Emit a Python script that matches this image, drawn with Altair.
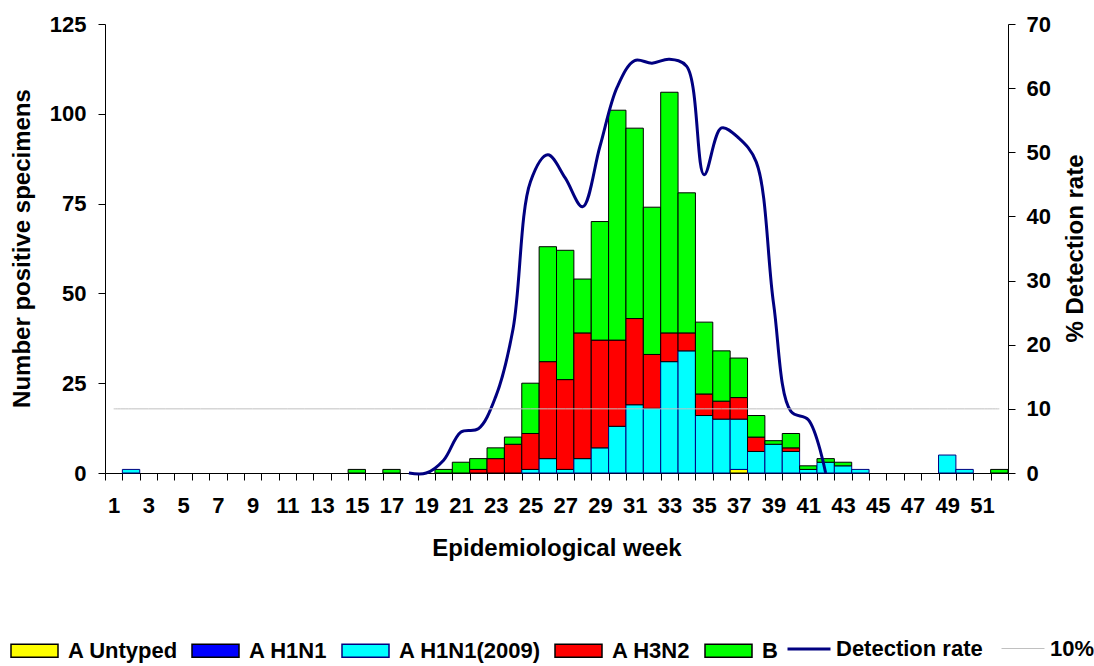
import altair as alt
import pandas as pd

# Epidemiological weeks 1..52
weeks = list(range(1, 53))

# Positive specimens per week, one list per virus type (rows of 13 weeks)
a_untyped = [
    0, 0, 0, 0, 0, 0, 0, 0, 0, 0, 0, 0, 0,
    0, 0, 0, 0, 0, 0, 0, 0, 0, 0, 0, 0, 0,
    0, 0, 0, 0, 0, 0, 0, 0, 0, 0, 1, 0, 0,
    0, 0, 0, 0, 0, 0, 0, 0, 0, 0, 0, 0, 0,
]
a_h1n1 = [
    0, 0, 0, 0, 0, 0, 0, 0, 0, 0, 0, 0, 0,
    0, 0, 0, 0, 0, 0, 0, 0, 0, 0, 0, 0, 0,
    0, 0, 0, 0, 0, 0, 0, 0, 0, 0, 0, 0, 0,
    0, 0, 0, 0, 0, 0, 0, 0, 0, 0, 0, 0, 0,
]
a_h1n1_2009 = [
    0, 1, 0, 0, 0, 0, 0, 0, 0, 0, 0, 0, 0,
    0, 0, 0, 0, 0, 0, 0, 0, 0, 0, 0, 1, 4,
    1, 4, 7, 13, 19, 18, 31, 34, 16, 15, 14, 6, 8,
    6, 1, 3, 2, 1, 0, 0, 0, 0, 5, 1, 0, 0,
]
a_h3n2 = [
    0, 0, 0, 0, 0, 0, 0, 0, 0, 0, 0, 0, 0,
    0, 0, 0, 0, 0, 0, 0, 0, 1, 4, 8, 10, 27,
    25, 35, 30, 24, 24, 15, 8, 5, 6, 5, 6, 4, 0,
    1, 0, 0, 0, 0, 0, 0, 0, 0, 0, 0, 0, 0,
]
b_type = [
    0, 0, 0, 0, 0, 0, 0, 0, 0, 0, 0, 0, 0,
    0, 1, 0, 1, 0, 0, 1, 3, 3, 3, 2, 14, 32,
    36, 15, 33, 64, 53, 41, 67, 39, 20, 14, 11, 6, 1,
    4, 1, 1, 1, 0, 0, 0, 0, 0, 0, 0, 0, 1,
]

# Detection rate (%) for the weeks where it was reported
rate_weeks = [18, 19, 20, 21, 22, 23, 24, 25, 26, 27, 28, 29, 30,
              31, 32, 33, 34, 35, 36, 37, 38, 39, 40, 41, 42]
rate_values = [0, 0, 2.0, 6.4, 6.9, 11.9, 22.5, 45.4, 49.6, 46.0, 41.5, 50.9, 60.2,
               64.3, 63.9, 64.5, 63.4, 46.5, 53.8, 52.2, 48.5, 26.4, 9.6, 8.3, 0]
threshold_pct = 10

series_names = ["A Untyped", "A H1N1", "A H1N1(2009)", "A H3N2", "B"]
series_fill = ["#ffff00", "#0000ff", "#00ffff", "#ff0000", "#00ff00"]
series_edge = ["#000000", "#000000", "#000080", "#000000", "#000000"]
line_names = ["Detection rate", "10%"]
line_colors = ["#000080", "#c0c0c0"]
line_widths = [3, 1]

FONT = "Liberation Sans"

# Long-form table for the stacked bars (zero counts dropped)
rows = []
for i, w in enumerate(weeks):
    for k, vals in enumerate([a_untyped, a_h1n1, a_h1n1_2009, a_h3n2, b_type]):
        if vals[i] > 0:
            rows.append({"week": w, "series": series_names[k], "count": vals[i], "stack": k})
bars_df = pd.DataFrame(rows)

lines_df = pd.concat([
    pd.DataFrame({"week": rate_weeks, "rate": rate_values, "line": "Detection rate"}),
    pd.DataFrame({"week": weeks, "rate": [threshold_pct for _ in weeks], "line": "10%"}),
])

x_scale = alt.Scale(domain=weeks, paddingInner=0, paddingOuter=0)
x_axis = alt.Axis(
    title="Epidemiological week", labelAngle=0, tickBand="extent",
    labelExpr="datum.value % 2 == 1 ? datum.label : ''", labelOverlap=False,
    labelPadding=15, titleY=75, titleBaseline="middle",
)

box_path = "M-1,-0.28H1V0.28H-1Z"
bar_legend = alt.Legend(
    title=None, orient="none", legendX=-95, legendY=602, direction="horizontal",
    columns=5, symbolType=box_path, symbolSize=2209, symbolStrokeWidth=1.5,
    labelOffset=9, columnPadding=11,
)
line_legend = alt.Legend(
    title=None, orient="none", legendX=681, legendY=602, direction="horizontal",
    columns=2, symbolType="stroke", symbolSize=1849, labelOffset=4, columnPadding=16,
)

bars = alt.Chart(bars_df).mark_bar(strokeWidth=1).encode(
    x=alt.X("week:O", scale=x_scale, axis=x_axis),
    y=alt.Y(
        "count:Q", stack="zero",
        scale=alt.Scale(domain=[0, 125], nice=False),
        axis=alt.Axis(
            orient="left", values=[0, 25, 50, 75, 100, 125],
            title="Number positive specimens", labelPadding=12,
            titleAngle=270, titleX=-83, titleY=224, titleBaseline="middle", titleAlign="center",
        ),
    ),
    fill=alt.Fill("series:N", scale=alt.Scale(domain=series_names, range=series_fill), legend=bar_legend),
    stroke=alt.Stroke("series:N", scale=alt.Scale(domain=series_names, range=series_edge), legend=bar_legend),
    order=alt.Order("stack:Q", sort="ascending"),
)

lines = alt.Chart(lines_df).mark_line(interpolate="catmull-rom").encode(
    x=alt.X("week:O", scale=x_scale, axis=x_axis),
    y=alt.Y(
        "rate:Q",
        scale=alt.Scale(domain=[0, 70], nice=False),
        axis=alt.Axis(
            orient="right", values=[0, 10, 20, 30, 40, 50, 60, 70],
            title="% Detection rate", labelPadding=11,
            titleAngle=270, titleX=67, titleY=224, titleBaseline="middle", titleAlign="center",
        ),
    ),
    color=alt.Color("line:N", scale=alt.Scale(domain=line_names, range=line_colors), legend=line_legend),
    strokeWidth=alt.StrokeWidth("line:N", scale=alt.Scale(domain=line_names, range=line_widths), legend=line_legend),
    detail="line:N",
)

chart = alt.layer(bars, lines).resolve_scale(y="independent").properties(
    width=903, height=449,
    autosize=alt.AutoSizeParams(type="none"),
    padding={"left": 105, "top": 24, "right": 86, "bottom": 193},
    background="white",
).configure_view(stroke=None).configure_axis(
    labelFont=FONT, labelFontSize=22, labelFontWeight="bold", labelColor="black",
    titleFont=FONT, titleFontSize=24, titleFontWeight="bold", titleColor="black",
    domainColor="black", tickColor="black", domainWidth=1, tickWidth=1, tickSize=7, grid=False,
).configure_legend(
    labelFont=FONT, labelFontSize=22, labelFontWeight="bold", labelColor="black",
)

chart.save("out.html", embed_options={"renderer": "svg", "actions": False})
